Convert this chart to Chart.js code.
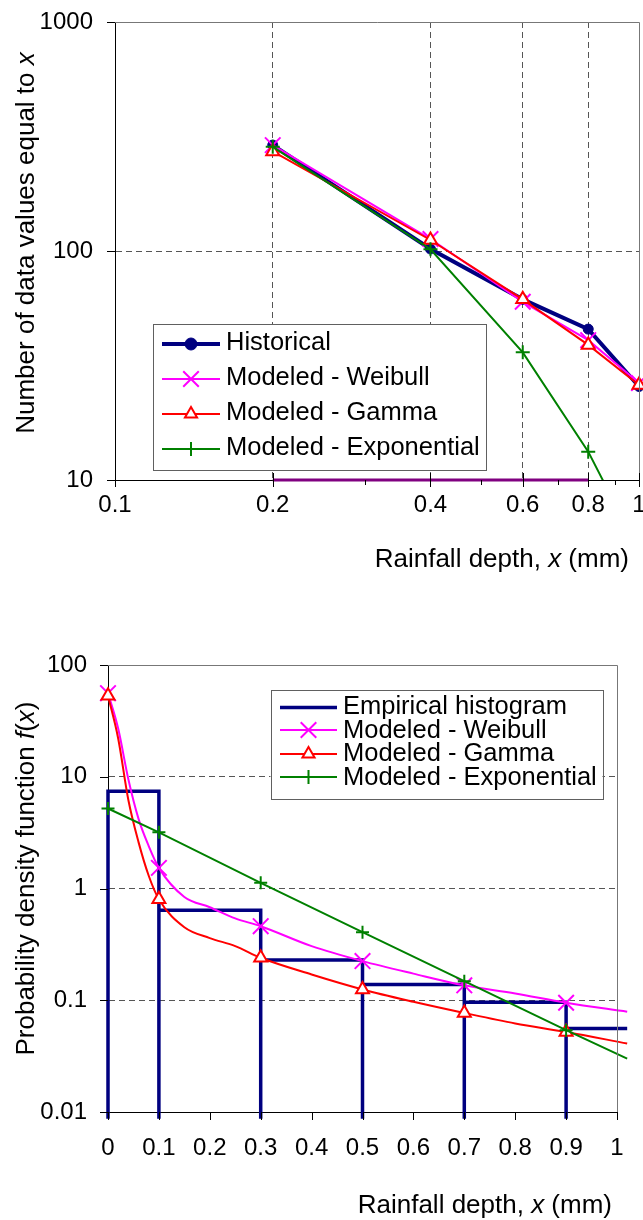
<!DOCTYPE html>
<html>
<head>
<meta charset="utf-8">
<script src="https://cdn.jsdelivr.net/npm/chart.js@4.4.1/dist/chart.umd.min.js"></script>
<style>
  html, body { margin: 0; padding: 0; background: #fff; }
  #wrap { position: relative; width: 643px; height: 1220px; }
  #wrap canvas { position: absolute; left: 0; }
</style>
</head>
<body>
<div id="wrap">
  <canvas id="countChart" width="643" height="610" style="top:0"></canvas>
  <canvas id="pdfChart" width="643" height="610" style="top:610px"></canvas>
</div>
<script>
// --- top chart: number of values equal to x (log-log) ---
const depth = [0.2, 0.4, 0.6, 0.8, 1.0];
const historical = [290, 102, 61.5, 45.6, 25.6];
const weibullCount = [290, 112.8, 60, 40.8, 26.5];
const gammaCount = [272, 111.7, 61.5, 38.9, 26];
const exponentialCount = [285, 101.8, 36.1, 13.3, 4.9];
const zeroDepth = [0.2, 0.4, 0.6, 0.8];
const zeroCount = [10, 10, 10, 10];
const countTicks = [10, 100, 1000];
const depthMajor = [0.1, 0.2, 0.4, 0.6, 0.8, 1];
const depthMinor = [0.3, 0.5, 0.7, 0.9];

// --- bottom chart: probability density ---
const binEdges = [0, 0.1, 0.3, 0.5, 0.7, 0.9, 1.02];
const histDensity = [7.4, 0.64, 0.229, 0.138, 0.096, 0.056];
const histFloor = 0.0087;
const curveX = [0, 0.02, 0.04, 0.06, 0.08, 0.1, 0.15, 0.2, 0.25, 0.3, 0.4, 0.5, 0.6, 0.7, 0.8, 0.9, 1.02];
const weibullPdf = [56, 27, 9.5, 4.2, 2.4, 1.53, 0.84, 0.68, 0.54, 0.46, 0.305, 0.224, 0.173, 0.136, 0.115, 0.095, 0.079];
const gammaPdf = [53, 22, 6.2, 2.6, 1.3, 0.8, 0.45, 0.36, 0.305, 0.24, 0.17, 0.125, 0.097, 0.077, 0.062, 0.052, 0.041];
const expX = [0, 0.1, 0.3, 0.5, 0.7, 0.9, 1.02];
const exponentialPdf = [5.2, 3.18, 1.125, 0.407, 0.148, 0.054, 0.030];
const markerX = [0, 0.1, 0.3, 0.5, 0.7, 0.9];
const pdfTicksY = [0.01, 0.1, 1, 10, 100];
const pdfTicksX = [0, 0.1, 0.2, 0.3, 0.4, 0.5, 0.6, 0.7, 0.8, 0.9, 1];

const FONT = '"Liberation Sans", Arial, sans-serif';
Chart.defaults.font.family = FONT;
Chart.defaults.color = '#000';

const NAVY = '#000080', MAGENTA = '#ff00ff', RED = '#ff0000', GREEN = '#008000', PURPLE = '#800080';
const GRID = '#555555', FRAME = '#777777';

const pts = (xs, ys) => xs.map((x, i) => ({ x: x, y: ys[i] }));

// step outline of the histogram, each bin edge dropping to the floor
const histPoints = [];
histDensity.forEach((h, i) => {
  histPoints.push({ x: binEdges[i], y: histFloor }, { x: binEdges[i], y: h }, { x: binEdges[i + 1], y: h });
});

function drawRich(ctx, parts, x, y, align, size) {
  const fonts = parts.map(p => (p.italic ? 'italic ' : '') + size + 'px ' + FONT);
  let total = 0;
  const widths = parts.map((p, i) => { ctx.font = fonts[i]; const w = ctx.measureText(p.text).width; total += w; return w; });
  let cx = align === 'right' ? x - total : align === 'center' ? x - total / 2 : x;
  ctx.textAlign = 'left';
  ctx.textBaseline = 'alphabetic';
  parts.forEach((p, i) => { ctx.font = fonts[i]; ctx.fillText(p.text, cx, y); cx += widths[i]; });
}

// top/right frame and tick marks
const framePlugin = {
  id: 'frame',
  afterDatasetsDraw(chart, args, o) {
    const { ctx, chartArea: a, scales: { x, y } } = chart;
    ctx.save();
    ctx.lineWidth = 1;
    ctx.strokeStyle = FRAME;
    ctx.beginPath();
    ctx.moveTo(a.left, Math.round(a.top) + 0.5);
    ctx.lineTo(Math.round(a.right) + 0.5, Math.round(a.top) + 0.5);
    ctx.lineTo(Math.round(a.right) + 0.5, a.bottom);
    ctx.stroke();
    ctx.strokeStyle = '#000';
    ctx.beginPath();
    const by = Math.round(a.bottom);
    o.xMajor.forEach(v => {
      const px = Math.round(x.getPixelForValue(v)) + 0.5;
      ctx.moveTo(px, by - o.majorUp); ctx.lineTo(px, by + o.majorDown);
    });
    o.xMinor.forEach(v => {
      const px = Math.round(x.getPixelForValue(v)) + 0.5;
      ctx.moveTo(px, by); ctx.lineTo(px, by + o.minorDown);
    });
    const lx = Math.round(a.left);
    o.yTicks.forEach(v => {
      const py = Math.round(y.getPixelForValue(v)) + 0.5;
      ctx.moveTo(lx - o.yTickLen, py); ctx.lineTo(lx, py);
    });
    ctx.stroke();
    ctx.restore();
  }
};

const titlesPlugin = {
  id: 'titles',
  afterDraw(chart, args, o) {
    const ctx = chart.ctx;
    ctx.save();
    ctx.fillStyle = '#000';
    drawRich(ctx, o.x.parts, o.x.right, o.x.baseline, 'right', o.size);
    ctx.translate(o.y.baselineX, o.y.centerY);
    ctx.rotate(-Math.PI / 2);
    drawRich(ctx, o.y.parts, 0, 0, 'center', o.size);
    ctx.restore();
  }
};

const boxLegendPlugin = {
  id: 'boxLegend',
  afterDraw(chart, args, o) {
    const ctx = chart.ctx;
    ctx.save();
    ctx.fillStyle = '#fff';
    ctx.fillRect(o.left, o.top, o.width, o.height);
    ctx.strokeStyle = '#606060';
    ctx.lineWidth = 1;
    ctx.strokeRect(Math.round(o.left) + 0.5, Math.round(o.top) + 0.5, Math.round(o.width), Math.round(o.height));
    const items = chart.data.datasets.filter(d => !d.hideInLegend);
    items.forEach((d, i) => {
      const base = o.firstBaseline + i * o.step;
      const ly = Math.round(base - o.lineOffset) + (d.borderWidth % 2 ? 0.5 : 0);
      ctx.strokeStyle = d.borderColor;
      ctx.lineWidth = d.borderWidth;
      ctx.beginPath(); ctx.moveTo(o.sampleFrom, ly); ctx.lineTo(o.sampleTo, ly); ctx.stroke();
      if (d.legendMarker) {
        const m = d.legendMarker;
        ctx.fillStyle = m.fill;
        ctx.strokeStyle = d.borderColor;
        ctx.lineWidth = m.borderWidth;
        Chart.helpers.drawPoint(ctx, { pointStyle: m.style, radius: m.radius, borderWidth: m.borderWidth, rotation: 0 },
          (o.sampleFrom + o.sampleTo) / 2, ly);
      }
      ctx.fillStyle = '#000';
      ctx.font = o.fontSize + 'px ' + FONT;
      ctx.textAlign = 'left';
      ctx.textBaseline = 'alphabetic';
      ctx.fillText(d.label, o.textX, base);
    });
    ctx.restore();
  }
};

const markClip = { left: 12, right: 12, top: 12, bottom: 0 };

new Chart(document.getElementById('countChart'), {
  type: 'line',
  data: {
    datasets: [{
      label: 'Historical',
      data: pts(depth, historical),
      borderColor: NAVY, backgroundColor: NAVY, borderWidth: 4,
      pointStyle: 'circle', pointRadius: 5, pointBorderWidth: 1,
      order: 4, clip: markClip,
      legendMarker: { style: 'circle', radius: 6, borderWidth: 1, fill: NAVY }
    }, {
      label: 'Modeled - Weibull',
      data: pts(depth, weibullCount),
      borderColor: MAGENTA, backgroundColor: MAGENTA, borderWidth: 2,
      pointStyle: 'crossRot', pointRadius: 11, pointBorderWidth: 2,
      order: 3, clip: markClip,
      legendMarker: { style: 'crossRot', radius: 11, borderWidth: 2, fill: MAGENTA }
    }, {
      label: 'Modeled - Gamma',
      data: pts(depth, gammaCount),
      borderColor: RED, backgroundColor: '#fff', borderWidth: 2,
      pointStyle: 'triangle', pointRadius: 7.5, pointBorderWidth: 2,
      order: 2, clip: markClip,
      legendMarker: { style: 'triangle', radius: 7, borderWidth: 2, fill: '#fff' }
    }, {
      label: 'Modeled - Exponential',
      data: pts(depth, exponentialCount),
      borderColor: GREEN, backgroundColor: GREEN, borderWidth: 2,
      pointStyle: 'cross', pointRadius: 7, pointBorderWidth: 2,
      order: 1, clip: markClip,
      legendMarker: { style: 'cross', radius: 7, borderWidth: 2, fill: GREEN }
    }, {
      label: 'zero counts',
      data: pts(zeroDepth, zeroCount),
      borderColor: PURPLE, borderWidth: 3, pointRadius: 0,
      order: 5, clip: { left: 0, right: 0, top: 0, bottom: 2 },
      hideInLegend: true
    }]
  },
  options: {
    responsive: false,
    animation: false,
    events: [],
    layout: { autoPadding: false, padding: { top: 22, right: 4, left: 0, bottom: 0 } },
    scales: {
      x: {
        type: 'logarithmic', min: 0.1, max: 1,
        afterBuildTicks: s => { s.ticks = depthMajor.concat(depthMinor).sort((a, b) => a - b).map(v => ({ value: v })); },
        afterFit: s => { s.height = 130; s.paddingLeft = 0; s.paddingRight = 0; },
        ticks: {
          autoSkip: false, maxRotation: 0, minRotation: 0, padding: 11,
          font: { size: 24 }, color: '#000',
          callback: v => depthMajor.includes(v) ? String(v) : ''
        },
        grid: {
          drawTicks: false,
          color: c => c.tick && [0.2, 0.4, 0.6, 0.8].includes(c.tick.value) ? GRID : 'rgba(0,0,0,0)'
        },
        border: { display: true, color: '#000', width: 1, dash: [6, 4] }
      },
      y: {
        type: 'logarithmic', min: 10, max: 1000,
        afterBuildTicks: s => { s.ticks = countTicks.map(v => ({ value: v })); },
        afterFit: s => { s.width = 115; s.paddingTop = 0; s.paddingBottom = 0; },
        ticks: { padding: 22, font: { size: 24 }, color: '#000', callback: v => String(v) },
        grid: {
          drawTicks: false,
          color: c => c.tick && c.tick.value === 100 ? GRID : 'rgba(0,0,0,0)'
        },
        border: { display: true, color: '#000', width: 1, dash: [6, 4] }
      }
    },
    plugins: {
      legend: { display: false },
      tooltip: { enabled: false },
      frame: { xMajor: depthMajor, xMinor: depthMinor, majorUp: 7, majorDown: 7, minorDown: 5, yTicks: countTicks, yTickLen: 8 },
      titles: {
        size: 26,
        x: { parts: [{ text: 'Rainfall depth, ' }, { text: 'x', italic: true }, { text: ' (mm)' }], right: 629, baseline: 567 },
        y: { parts: [{ text: 'Number of data values equal to ' }, { text: 'x', italic: true }], baselineX: 34, centerY: 243 }
      },
      boxLegend: {
        left: 152.5, top: 324, width: 332.5, height: 146,
        firstBaseline: 349.5, step: 35.2, lineOffset: 6,
        sampleFrom: 162, sampleTo: 220, textX: 226, fontSize: 25.5
      }
    }
  },
  plugins: [framePlugin, titlesPlugin, boxLegendPlugin]
});

const markerRadius = r => c => markerX.includes(curveX[c.dataIndex]) ? r : 0;

new Chart(document.getElementById('pdfChart'), {
  type: 'line',
  data: {
    datasets: [{
      label: 'Empirical histogram',
      data: histPoints,
      borderColor: NAVY, borderWidth: 3.5, pointRadius: 0,
      order: 4, clip: false
    }, {
      label: 'Modeled - Weibull',
      data: pts(curveX, weibullPdf),
      borderColor: MAGENTA, backgroundColor: MAGENTA, borderWidth: 2,
      cubicInterpolationMode: 'monotone',
      pointStyle: 'crossRot', pointRadius: markerRadius(11), pointBorderWidth: 2,
      order: 3, clip: false,
      legendMarker: { style: 'crossRot', radius: 11, borderWidth: 2, fill: MAGENTA }
    }, {
      label: 'Modeled - Gamma',
      data: pts(curveX, gammaPdf),
      borderColor: RED, backgroundColor: '#fff', borderWidth: 2,
      cubicInterpolationMode: 'monotone',
      pointStyle: 'triangle', pointRadius: markerRadius(7.5), pointBorderWidth: 2,
      order: 2, clip: false,
      legendMarker: { style: 'triangle', radius: 7, borderWidth: 2, fill: '#fff' }
    }, {
      label: 'Modeled - Exponential',
      data: pts(expX, exponentialPdf),
      borderColor: GREEN, backgroundColor: GREEN, borderWidth: 2,
      pointStyle: 'cross', pointRadius: c => markerX.includes(expX[c.dataIndex]) ? 6.5 : 0, pointBorderWidth: 2,
      order: 1, clip: false,
      legendMarker: { style: 'cross', radius: 7, borderWidth: 2, fill: GREEN }
    }]
  },
  options: {
    responsive: false,
    animation: false,
    events: [],
    layout: { autoPadding: false, padding: { top: 55, right: 26, left: 0, bottom: 0 } },
    scales: {
      x: {
        type: 'linear', min: 0, max: 1,
        afterBuildTicks: s => { s.ticks = pdfTicksX.map(v => ({ value: v })); },
        afterFit: s => { s.height = 108; s.paddingLeft = 0; s.paddingRight = 0; },
        ticks: { autoSkip: false, maxRotation: 0, minRotation: 0, padding: 22, font: { size: 24 }, color: '#000', callback: v => String(v) },
        grid: { display: false, drawTicks: false },
        border: { display: true, color: '#000', width: 1 }
      },
      y: {
        type: 'logarithmic', min: 0.01, max: 100,
        afterBuildTicks: s => { s.ticks = pdfTicksY.map(v => ({ value: v })); },
        afterFit: s => { s.width = 108; s.paddingTop = 0; s.paddingBottom = 0; },
        ticks: { padding: 21, font: { size: 24 }, color: '#000', callback: v => String(v) },
        grid: {
          drawTicks: false,
          color: c => c.tick && [0.1, 1, 10].includes(c.tick.value) ? GRID : 'rgba(0,0,0,0)'
        },
        border: { display: true, color: '#000', width: 1, dash: [6, 4] }
      }
    },
    plugins: {
      legend: { display: false },
      tooltip: { enabled: false },
      frame: { xMajor: pdfTicksX, xMinor: [], majorUp: 0, majorDown: 8, minorDown: 0, yTicks: pdfTicksY, yTickLen: 8 },
      titles: {
        size: 26,
        x: { parts: [{ text: 'Rainfall depth, ' }, { text: 'x', italic: true }, { text: ' (mm)' }], right: 612, baseline: 603 },
        y: { parts: [{ text: 'Probability density function ' }, { text: 'f', italic: true }, { text: '(' }, { text: 'x', italic: true }, { text: ')' }], baselineX: 34, centerY: 268.5 }
      },
      boxLegend: {
        left: 270.5, top: 79.5, width: 332, height: 109,
        firstBaseline: 104, step: 23.6, lineOffset: 7.5,
        sampleFrom: 280, sampleTo: 337, textX: 343, fontSize: 25.5
      }
    }
  },
  plugins: [framePlugin, titlesPlugin, boxLegendPlugin]
});
</script>
</body>
</html>
